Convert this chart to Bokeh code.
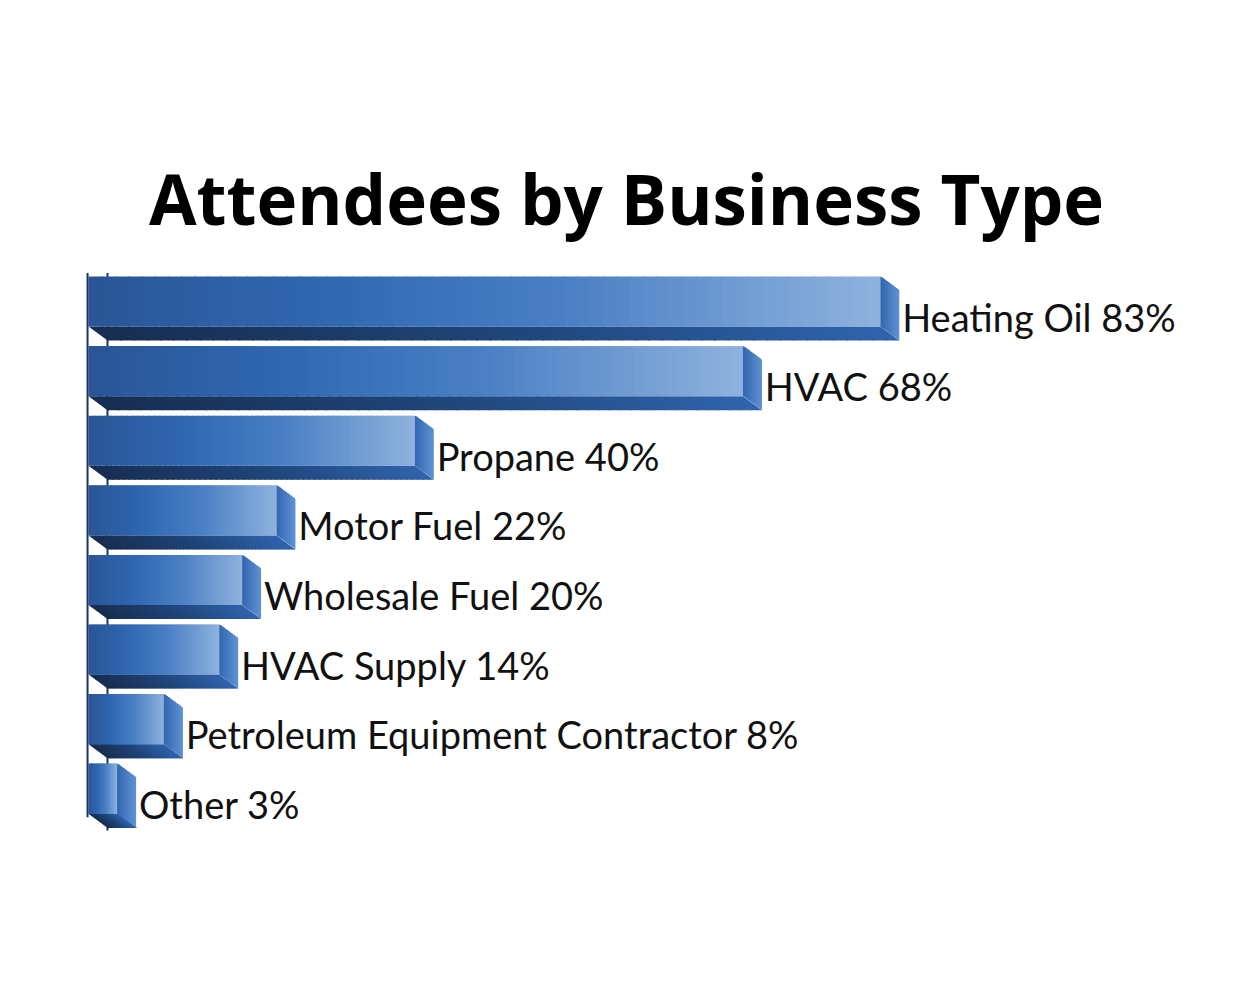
from bokeh.plotting import figure
from bokeh.models import Range1d, Label
from bokeh.core.properties import value
from bokeh.embed import file_html
from bokeh.resources import INLINE

# Data
categories = ["Heating Oil", "HVAC", "Propane", "Motor Fuel", "Wholesale Fuel",
              "HVAC Supply", "Petroleum Equipment Contractor", "Other"]
percent_labels = [83, 68, 40, 22, 20, 14, 8, 3]
# bar lengths as drawn in the original (in % units), they don't quite follow the labels
bar_lengths = [83.0, 68.6, 34.2, 19.7, 16.1, 13.7, 7.9, 3.0]

W, H = 1234, 984
PX_X = 9.54          # pixels per % unit
X0_PX = 88           # pixel position of 0%
PX_Y = 69.6          # pixels per bar row
Y0_PX = 308          # pixel position of first row centre

DX = 19 / PX_X       # 3d depth offset
DY = 14 / PX_Y
FRONT_TOP = -0.46
FRONT_BOT = 0.26
N = 60               # strips for the gradients
OV = 0.15            # strip overlap to hide seams


def hex2rgb(h):
    h = h.lstrip("#")
    return tuple(int(h[i:i + 2], 16) for i in (0, 2, 4))


def ramp(stops, t):
    stops = [(s, hex2rgb(c)) for s, c in stops]
    for (s0, c0), (s1, c1) in zip(stops[:-1], stops[1:]):
        if t <= s1:
            f = (t - s0) / (s1 - s0) if s1 > s0 else 0
            rgb = [round(a + (b - a) * f) for a, b in zip(c0, c1)]
            return "#%02x%02x%02x" % tuple(rgb)
    return "#%02x%02x%02x" % stops[-1][1]


front_stops = [(0, "#2a5596"), (0.3, "#2f68b2"), (0.6, "#4a7fc4"), (1, "#8fb2de")]
bottom_stops = [(0, "#172d50"), (0.5, "#1f4478"), (1, "#2f64ad")]
side_stops = [(0, "#3166b0"), (1, "#6193d2")]

p = figure(width=W, height=H, output_backend="svg", toolbar_location=None,
           x_range=Range1d(-X0_PX / PX_X, (W - X0_PX) / PX_X),
           y_range=Range1d((H - Y0_PX) / PX_Y, -Y0_PX / PX_Y),
           min_border=0, outline_line_color=None)
p.axis.visible = False
p.grid.visible = False

n = len(categories)
# back wall line
p.segment(x0=[DX], y0=[FRONT_TOP - 0.05], x1=[DX], y1=[n - 1 + FRONT_BOT + DY + 0.04],
          line_color="#1b3560", line_width=2)

fl, fr, ft, fb, fc = [], [], [], [], []
bxs, bys, bc = [], [], []
sxs, sys_, sc = [], [], []
for i, L in enumerate(bar_lengths):
    top = i + FRONT_TOP
    bot = i + FRONT_BOT
    for j in range(N):
        a, b = L * j / N, L * (j + 1) / N
        t = (j + 0.5) / N
        ov = OV if j < N - 1 else 0
        fl.append(a); fr.append(b + ov); ft.append(top); fb.append(bot)
        fc.append(ramp(front_stops, t))
        # bottom face strip (parallelogram)
        bxs.append([a, b + ov, b + DX + ov, a + DX])
        bys.append([bot, bot, bot + DY, bot + DY])
        bc.append(ramp(bottom_stops, t))
    for j in range(12):
        u0, u1 = j / 12, (j + 1) / 12
        x0, x1 = L + DX * u0, L + DX * u1 + (0.12 if j < 11 else 0)
        sxs.append([x0, x1, x1, x0])
        sys_.append([top + DY * u0, top + DY * u1, bot + DY * u1, bot + DY * u0])
        sc.append(ramp(side_stops, (j + 0.5) / 12))

p.patches(xs=bxs, ys=bys, fill_color=bc, line_color=None)
p.quad(left=fl, right=fr, top=ft, bottom=fb, fill_color=fc, line_color=None)
p.patches(xs=sxs, ys=sys_, fill_color=sc, line_color=None)

# front axis line
p.segment(x0=[-0.1], y0=[FRONT_TOP - 0.05], x1=[-0.1], y1=[n - 1 + FRONT_BOT + 0.05],
          line_color="#1b3560", line_width=2)

labels = [f"{c} {v}%" for c, v in zip(categories, percent_labels)]
p.text(x=[L + DX + 0.3 for L in bar_lengths], y=[i + 0.115 for i in range(n)],
       text=labels, text_font=value("Lato"), text_font_size="38px",
       text_color="#111111", text_baseline="alphabetic", text_align="left")

title = Label(x=626, y=787, x_units="screen", y_units="screen",
              text="Attendees by Business Type", text_font="Open Sans",
              text_font_style="bold", text_font_size="69px", text_color="black",
              text_align="center", text_baseline="alphabetic")
p.add_layout(title)

open("out.html", "w").write(file_html(p, INLINE))
